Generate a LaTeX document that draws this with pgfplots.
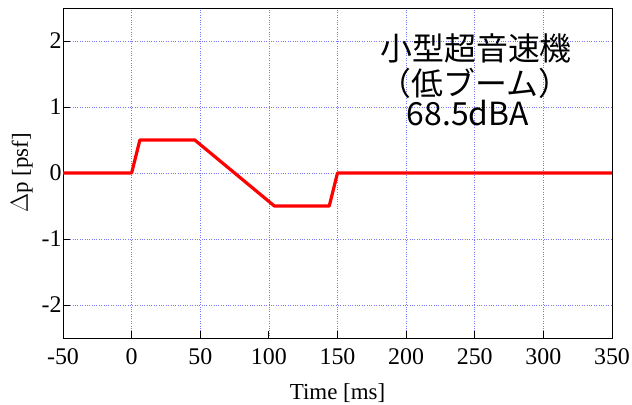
\documentclass[border=0pt]{standalone}
\usepackage{pgfplots}
\pgfplotsset{compat=1.18}
\usepackage{fontspec}
\setmainfont{Liberation Serif}
\newfontfamily\cjk{Noto Sans CJK JP}
\definecolor{gridblue}{RGB}{120,120,255}
\begin{document}
\begin{tikzpicture}[x=1bp,y=1bp]
\begin{axis}[
  name=ax,
  scale only axis,
  width=549bp, height=330bp,
  xmin=-50, xmax=350, ymin=-2.5, ymax=2.5,
  xtick={-50,0,...,350}, ytick={-2,-1,0,1,2},
  tick align=inside, tick pos=left,
  major tick length=7bp,
  grid=major,
  major grid style={gridblue, dotted, line width=0.7pt},
  axis line style={line width=0.9pt},
  tick style={black, line width=0.9pt},
  /pgf/number format/assume math mode=true,
  ticklabel style={font=\fontsize{24}{26}\selectfont},
  xticklabel style={yshift=-7bp},
  yticklabel style={xshift=2bp},
  label style={font=\fontsize{23}{25}\selectfont},
  xlabel={Time [ms]}, ylabel={$\Delta$p [psf]},
  xlabel style={yshift=-12bp},
  ylabel style={yshift=2bp},
  clip=false,
]
\addplot[red, line width=3.2pt, line join=round] coordinates {
 (-50,0) (0,0) (6,0.5) (46,0.5) (104,-0.5) (144,-0.5) (150,0) (350,0)
};
\node[font=\cjk\fontsize{32}{34}\selectfont] at (axis cs:251,1.89) {小型超音速機};
\node[font=\cjk\fontsize{32}{34}\selectfont] at (axis cs:250,1.36) {（低ブーム）};
\node[font=\cjk\fontsize{32}{34}\selectfont] at (axis cs:245,0.91) {68.5dBA};
\end{axis}
\pgfresetboundingbox
\path[use as bounding box] ([shift={(-63bp,-67bp)}]ax.south west) rectangle ([shift={(20bp,8bp)}]ax.north east);
\end{tikzpicture}
\end{document}
